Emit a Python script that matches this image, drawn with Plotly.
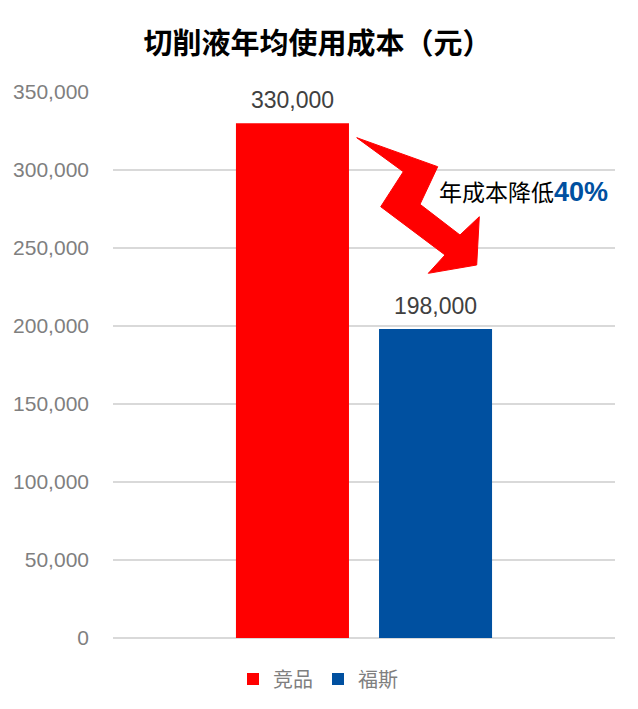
import plotly.graph_objects as go

# ---- data ----
categories = [""]
series_names = ["竞品", "福斯"]
series_values = [[330000], [198000]]
series_colors = ["#FF0000", "#0050A0"]
title_text = "切削液年均使用成本（元）"
note_text = "年成本降低"
note_pct = "40%"
y_ticks = [0, 50000, 100000, 150000, 200000, 250000, 300000, 350000]

FONT = "Liberation Sans, Noto Sans CJK SC"
OFFX, OFFY = 8, 8  # page offset of the figure in the html page
W, H = 630, 701
L, T = 113 - OFFX, 92 - OFFY
R, B = W - (615 - OFFX), H - (638 - OFFY)
PW, PH = W - L - R, H - T - B
BARGAP = 0.43
BARGROUPGAP = 0.21


def px(x, y):
    """reference-screen pixel -> paper coordinates"""
    return (x - OFFX - L) / PW, (H - B - (y - OFFY)) / PH


fig = go.Figure()
for name, vals, col in zip(series_names, series_values, series_colors):
    fig.add_trace(go.Bar(x=categories, y=vals, name=name, marker=dict(color=col, line=dict(width=0))))

# data labels above bars
n = len(series_names)
slot = (1 - BARGAP) / n
for i, vals in enumerate(series_values):
    off = -(1 - BARGAP) / 2 + slot * (i + 0.5)
    for j, v in enumerate(vals):
        fig.add_annotation(x=j + off, y=v, xref="x", yref="y", text=f"{v:,}",
                           showarrow=False, yanchor="middle", yshift=23,
                           font=dict(family=FONT, size=23, color="#404040"))

# zigzag arrow (decoration)
pts = [(356.7, 137.7), (437.7, 166.7), (420, 204.3), (460, 235), (479.3, 216.7),
       (476.7, 265), (428.3, 273.3), (445, 255), (380.7, 206.7), (403.3, 171.7)]
pp = [px(a, b) for a, b in pts]
path = "M " + " L ".join(f"{a:.4f},{b:.4f}" for a, b in pp) + " Z"
fig.add_shape(type="path", xref="paper", yref="paper", path=path,
              fillcolor="#FF0000", line=dict(color="#FF0000", width=1))

nx, ny = px(437, 191.5)
fig.add_annotation(x=nx, y=ny, xref="paper", yref="paper", xanchor="left", yanchor="middle",
                   showarrow=False,
                   text=f"{note_text}<span style='color:#0050A0;font-size:27px'><b>{note_pct}</b></span>",
                   font=dict(family=FONT, size=23, color="#000000"))

fig.update_layout(
    width=W, height=H,
    margin=dict(l=L, r=R, t=T, b=B, autoexpand=False),
    paper_bgcolor="white", plot_bgcolor="white",
    barmode="group", bargap=BARGAP, bargroupgap=BARGROUPGAP,
    title=dict(text=f"<b>{title_text}</b>", x=309.5 / W, xref="container", xanchor="center",
               y=1 - (44 - OFFY) / H, yref="container", yanchor="middle",
               font=dict(family=FONT, size=29, color="#000000")),
    font=dict(family=FONT),
    legend=dict(orientation="h", x=px(318, 0)[0], xanchor="center", y=px(0, 679)[1], yanchor="middle",
                font=dict(family=FONT, size=20, color="#7F7F7F"), bgcolor="rgba(0,0,0,0)"),
    xaxis=dict(showticklabels=False, showgrid=False, showline=False, zeroline=False,
               fixedrange=True, automargin=False),
    yaxis=dict(range=[0, 350000], tickvals=y_ticks, tickformat=",", showgrid=True,
               gridcolor="#D9D9D9", gridwidth=1.5, zeroline=True, zerolinecolor="#D9D9D9",
               zerolinewidth=1.5, showline=False, ticks="", ticklabelstandoff=23, automargin=False,
               tickfont=dict(family=FONT, size=21, color="#7F7F7F")),
)

fig.write_html("out.html")
